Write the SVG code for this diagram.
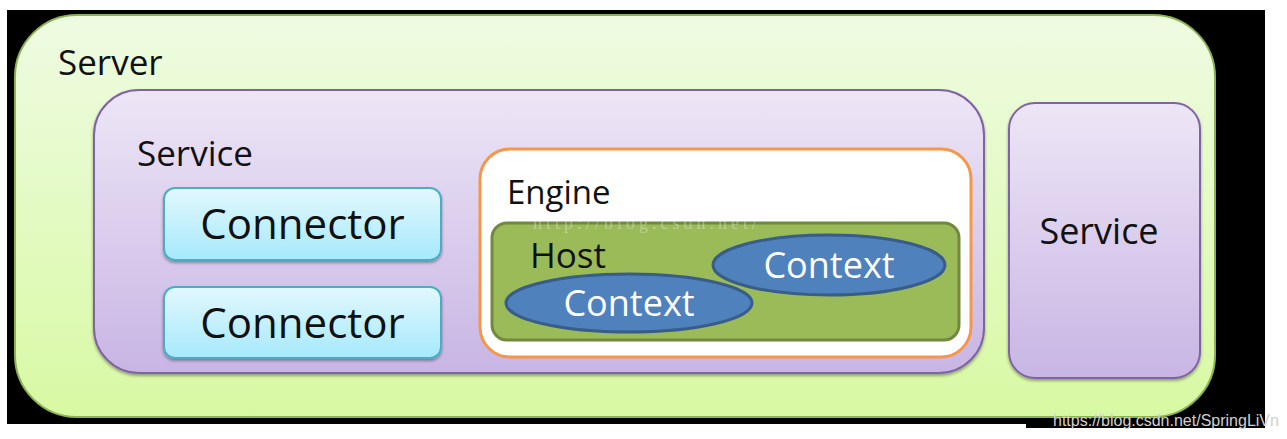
<svg xmlns="http://www.w3.org/2000/svg" width="1287" height="439" viewBox="0 0 1287 439">
<defs>
<linearGradient id="gServer" x1="0" y1="0" x2="0" y2="1"><stop offset="0" stop-color="#eefbe2"/><stop offset="1" stop-color="#d8f9a3"/></linearGradient>
<linearGradient id="gService" x1="0" y1="0" x2="0" y2="1"><stop offset="0" stop-color="#ede6f6"/><stop offset="1" stop-color="#c8b5e4"/></linearGradient>
<linearGradient id="gConn" x1="0" y1="0" x2="0" y2="1"><stop offset="0" stop-color="#e2f8fe"/><stop offset="1" stop-color="#a6e9fc"/></linearGradient>
<filter id="sh" x="-5%" y="-5%" width="110%" height="115%"><feDropShadow dx="0" dy="2" stdDeviation="1.5" flood-color="#000" flood-opacity="0.35"/></filter>
</defs>
<style>
.t{font-family:"Open Sans","Noto Sans","Liberation Sans",sans-serif;fill:#111}
.server{fill:url(#gServer);stroke:#8db254;stroke-width:2}
.service{fill:url(#gService);stroke:#8064a2;stroke-width:2}
.conn{fill:url(#gConn);stroke:#4bacc6;stroke-width:2}
.ctx{fill:#4f81bd;stroke:#385d8a;stroke-width:3}
.w{fill:#fff}
</style>
<rect width="1287" height="439" fill="#fff"/>
<rect x="7" y="10" width="1258" height="414" fill="#000"/>
<rect x="1026" y="420" width="239" height="8" fill="#000"/>
<g id="server">
<rect class="server" x="15" y="15" width="1200" height="402" rx="62" filter="url(#sh)"/>
<text class="t" x="58" y="75" font-size="35">Server</text>
</g>
<g id="service1">
<rect class="service" x="94" y="90" width="890" height="283" rx="45" filter="url(#sh)"/>
<text class="t" x="137" y="166" font-size="35">Service</text>
</g>
<g id="connector1">
<rect class="conn" x="164" y="188" width="277" height="72" rx="11" filter="url(#sh)"/>
<text class="t" x="302.5" y="239" font-size="42" text-anchor="middle" fill="#222">Connector</text>
</g>
<g id="connector2">
<rect class="conn" x="164" y="287" width="277" height="71" rx="11" filter="url(#sh)"/>
<text class="t" x="302.5" y="338" font-size="42" text-anchor="middle">Connector</text>
</g>
<g id="engine">
<rect x="480" y="149" width="491" height="208" rx="30" fill="#fff" stroke="#f79646" stroke-width="3"/>
<text class="t" x="507" y="204" font-size="33">Engine</text>
</g>
<g id="host">
<rect x="492" y="223" width="467" height="117" rx="15" fill="#9bbb59" stroke="#71893f" stroke-width="3"/>
<text x="533" y="229" font-family="Liberation Serif,serif" font-size="18" letter-spacing="4" fill="#ffffff" opacity="0.3">http://blog.csdn.net/</text>
<text class="t" x="530" y="268" font-size="35">Host</text>
</g>
<g id="context1">
<ellipse class="ctx" cx="829" cy="265" rx="116" ry="30"/>
<text class="t w" x="829" y="278" font-size="36" text-anchor="middle">Context</text>
</g>
<g id="context2">
<ellipse class="ctx" cx="629" cy="303" rx="123" ry="29"/>
<text class="t w" x="629" y="316" font-size="36" text-anchor="middle">Context</text>
</g>
<g id="service2">
<rect class="service" x="1009" y="103" width="191" height="275" rx="26" filter="url(#sh)"/>
<text class="t" x="1099" y="244" font-size="36" text-anchor="middle">Service</text>
</g>
<g id="connectors"></g>
<text x="1053" y="426" font-family="Liberation Sans,Arial,sans-serif" font-size="16" fill="#d0d0d0">https://blog.csdn.net/SpringLiVn</text>
</svg>
